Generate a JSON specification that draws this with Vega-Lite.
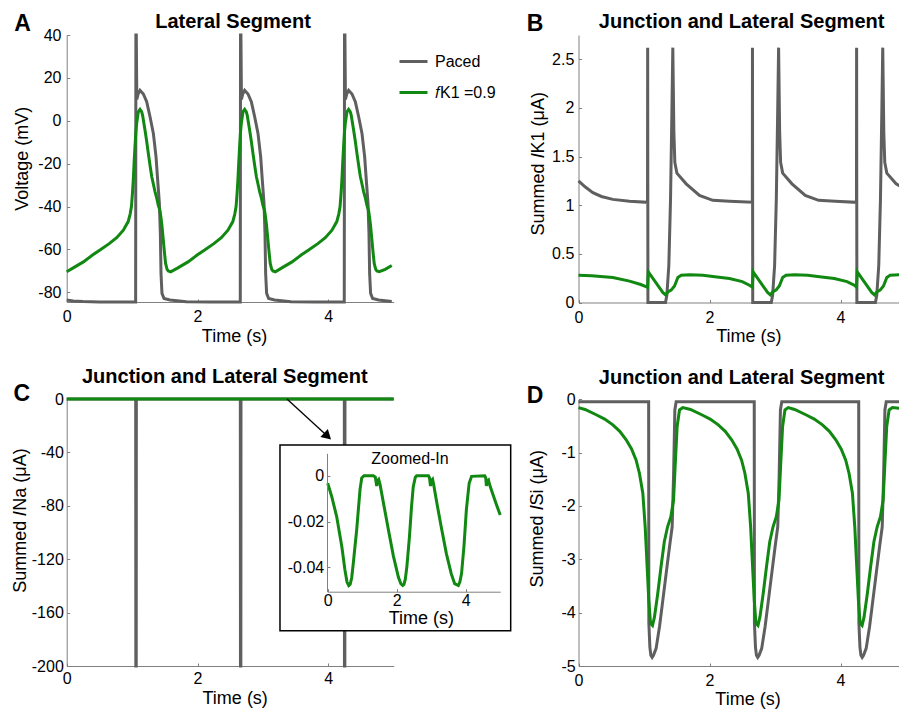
{
"$schema": "https://vega.github.io/schema/vega-lite/v6.json",
"width": 899, "height": 711,
"autosize": {"type": "none"},
"padding": 0,
"background": "white",
"config": {
  "view": {"stroke": null},
  "locale": {"number": {"decimal": ".", "thousands": ",", "grouping": [3], "currency": ["$", ""], "minus": "-"}},
  "axis": {"grid": false, "domainColor": "#808080", "domainWidth": 1, "tickColor": "#808080", "tickSize": -3, "tickWidth": 1,
           "labelFont": "Liberation Sans", "labelFontSize": 16, "labelColor": "#000000", "labelFlush": false, "labelOverlap": false,
           "titleFont": "Liberation Sans", "titleFontSize": 18, "titleFontWeight": "normal", "titleColor": "#000000"},
  "text": {"font": "Liberation Sans", "color": "#000000"}
},
"datasets": {
  "A": [
    {"s":"Paced","t":0,"v":-83.6},{"s":"Paced","t":0.1,"v":-84.0},{"s":"Paced","t":0.25,"v":-84.3},{"s":"Paced","t":0.5,"v":-84.5},{"s":"Paced","t":1.054,"v":-84.5},
    {"s":"Paced","t":1.058,"v":40},{"s":"Paced","t":1.064,"v":40},{"s":"Paced","t":1.072,"v":10},{"s":"Paced","t":1.092,"v":12.5},{"s":"Paced","t":1.121,"v":14.2},
    {"s":"Paced","t":1.172,"v":12.5},{"s":"Paced","t":1.223,"v":8.9},{"s":"Paced","t":1.274,"v":1.9},{"s":"Paced","t":1.325,"v":-5.9},{"s":"Paced","t":1.366,"v":-16.8},
    {"s":"Paced","t":1.391,"v":-27.7},{"s":"Paced","t":1.417,"v":-38.5},{"s":"Paced","t":1.432,"v":-52.5},{"s":"Paced","t":1.442,"v":-71.2},{"s":"Paced","t":1.457,"v":-80.5},
    {"s":"Paced","t":1.488,"v":-82.9},{"s":"Paced","t":1.579,"v":-83.6},{"s":"Paced","t":1.83,"v":-84.4},{"s":"Paced","t":2.2,"v":-84.5},{"s":"Paced","t":2.654,"v":-84.5},
    {"s":"Paced","t":2.658,"v":40},{"s":"Paced","t":2.664,"v":40},{"s":"Paced","t":2.672,"v":10},{"s":"Paced","t":2.692,"v":12.5},{"s":"Paced","t":2.721,"v":14.2},
    {"s":"Paced","t":2.772,"v":12.5},{"s":"Paced","t":2.823,"v":8.9},{"s":"Paced","t":2.874,"v":1.9},{"s":"Paced","t":2.925,"v":-5.9},{"s":"Paced","t":2.966,"v":-16.8},
    {"s":"Paced","t":2.991,"v":-27.7},{"s":"Paced","t":3.017,"v":-38.5},{"s":"Paced","t":3.032,"v":-52.5},{"s":"Paced","t":3.042,"v":-71.2},{"s":"Paced","t":3.057,"v":-80.5},
    {"s":"Paced","t":3.088,"v":-82.9},{"s":"Paced","t":3.179,"v":-83.6},{"s":"Paced","t":3.43,"v":-84.4},{"s":"Paced","t":3.8,"v":-84.5},{"s":"Paced","t":4.244,"v":-84.5},
    {"s":"Paced","t":4.248,"v":40},{"s":"Paced","t":4.254,"v":40},{"s":"Paced","t":4.262,"v":10},{"s":"Paced","t":4.282,"v":12.5},{"s":"Paced","t":4.311,"v":14.2},
    {"s":"Paced","t":4.362,"v":12.5},{"s":"Paced","t":4.413,"v":8.9},{"s":"Paced","t":4.464,"v":1.9},{"s":"Paced","t":4.515,"v":-5.9},{"s":"Paced","t":4.556,"v":-16.8},
    {"s":"Paced","t":4.581,"v":-27.7},{"s":"Paced","t":4.607,"v":-38.5},{"s":"Paced","t":4.622,"v":-52.5},{"s":"Paced","t":4.632,"v":-71.2},{"s":"Paced","t":4.647,"v":-80.5},
    {"s":"Paced","t":4.678,"v":-82.9},{"s":"Paced","t":4.769,"v":-83.6},{"s":"Paced","t":4.97,"v":-84.3},
    {"s":"fK1","t":0,"v":-70.4},{"s":"fK1","t":0.1,"v":-68.6},{"s":"fK1","t":0.255,"v":-65.8},{"s":"fK1","t":0.4,"v":-62.5},{"s":"fK1","t":0.509,"v":-60.3},
    {"s":"fK1","t":0.65,"v":-57.3},{"s":"fK1","t":0.764,"v":-54.5},{"s":"fK1","t":0.866,"v":-51},{"s":"fK1","t":0.94,"v":-47},{"s":"fK1","t":0.97,"v":-43.5},
    {"s":"fK1","t":0.99,"v":-40},{"s":"fK1","t":1.005,"v":-34},{"s":"fK1","t":1.018,"v":-27.7},{"s":"fK1","t":1.03,"v":-20},{"s":"fK1","t":1.044,"v":-12},
    {"s":"fK1","t":1.057,"v":-5.5},{"s":"fK1","t":1.07,"v":-1.2},{"s":"fK1","t":1.095,"v":4.2},{"s":"fK1","t":1.121,"v":5.3},{"s":"fK1","t":1.145,"v":4.3},
    {"s":"fK1","t":1.16,"v":2.7},{"s":"fK1","t":1.197,"v":-4.3},{"s":"fK1","t":1.223,"v":-9.5},{"s":"fK1","t":1.248,"v":-15.2},{"s":"fK1","t":1.275,"v":-21},
    {"s":"fK1","t":1.3,"v":-26},{"s":"fK1","t":1.325,"v":-29.5},{"s":"fK1","t":1.35,"v":-33},{"s":"fK1","t":1.376,"v":-36},{"s":"fK1","t":1.4,"v":-39.3},
    {"s":"fK1","t":1.427,"v":-42},{"s":"fK1","t":1.44,"v":-44.8},{"s":"fK1","t":1.455,"v":-48.5},{"s":"fK1","t":1.477,"v":-55.6},{"s":"fK1","t":1.495,"v":-61.5},
    {"s":"fK1","t":1.512,"v":-66.5},{"s":"fK1","t":1.535,"v":-69.3},{"s":"fK1","t":1.553,"v":-70},{"s":"fK1","t":1.59,"v":-70.4},
    {"s":"fK1","t":1.7,"v":-68.6},{"s":"fK1","t":1.855,"v":-65.8},{"s":"fK1","t":2.0,"v":-62.5},{"s":"fK1","t":2.109,"v":-60.3},{"s":"fK1","t":2.25,"v":-57.3},
    {"s":"fK1","t":2.364,"v":-54.5},{"s":"fK1","t":2.466,"v":-51},{"s":"fK1","t":2.54,"v":-47},{"s":"fK1","t":2.57,"v":-43.5},{"s":"fK1","t":2.59,"v":-40},
    {"s":"fK1","t":2.605,"v":-34},{"s":"fK1","t":2.618,"v":-27.7},{"s":"fK1","t":2.63,"v":-20},{"s":"fK1","t":2.644,"v":-12},{"s":"fK1","t":2.657,"v":-5.5},
    {"s":"fK1","t":2.67,"v":-1.2},{"s":"fK1","t":2.695,"v":4.2},{"s":"fK1","t":2.721,"v":5.3},{"s":"fK1","t":2.745,"v":4.3},{"s":"fK1","t":2.76,"v":2.7},
    {"s":"fK1","t":2.797,"v":-4.3},{"s":"fK1","t":2.823,"v":-9.5},{"s":"fK1","t":2.848,"v":-15.2},{"s":"fK1","t":2.875,"v":-21},{"s":"fK1","t":2.9,"v":-26},
    {"s":"fK1","t":2.925,"v":-29.5},{"s":"fK1","t":2.95,"v":-33},{"s":"fK1","t":2.976,"v":-36},{"s":"fK1","t":3.0,"v":-39.3},{"s":"fK1","t":3.027,"v":-42},
    {"s":"fK1","t":3.04,"v":-44.8},{"s":"fK1","t":3.055,"v":-48.5},{"s":"fK1","t":3.077,"v":-55.6},{"s":"fK1","t":3.095,"v":-61.5},{"s":"fK1","t":3.112,"v":-66.5},
    {"s":"fK1","t":3.135,"v":-69.3},{"s":"fK1","t":3.153,"v":-70},{"s":"fK1","t":3.19,"v":-70.4},
    {"s":"fK1","t":3.29,"v":-68.6},{"s":"fK1","t":3.445,"v":-65.8},{"s":"fK1","t":3.59,"v":-62.5},{"s":"fK1","t":3.699,"v":-60.3},{"s":"fK1","t":3.84,"v":-57.3},
    {"s":"fK1","t":3.954,"v":-54.5},{"s":"fK1","t":4.056,"v":-51},{"s":"fK1","t":4.13,"v":-47},{"s":"fK1","t":4.16,"v":-43.5},{"s":"fK1","t":4.18,"v":-40},
    {"s":"fK1","t":4.195,"v":-34},{"s":"fK1","t":4.208,"v":-27.7},{"s":"fK1","t":4.22,"v":-20},{"s":"fK1","t":4.234,"v":-12},{"s":"fK1","t":4.247,"v":-5.5},
    {"s":"fK1","t":4.26,"v":-1.2},{"s":"fK1","t":4.285,"v":4.2},{"s":"fK1","t":4.311,"v":5.3},{"s":"fK1","t":4.335,"v":4.3},{"s":"fK1","t":4.35,"v":2.7},
    {"s":"fK1","t":4.387,"v":-4.3},{"s":"fK1","t":4.413,"v":-9.5},{"s":"fK1","t":4.438,"v":-15.2},{"s":"fK1","t":4.465,"v":-21},{"s":"fK1","t":4.49,"v":-26},
    {"s":"fK1","t":4.515,"v":-29.5},{"s":"fK1","t":4.54,"v":-33},{"s":"fK1","t":4.566,"v":-36},{"s":"fK1","t":4.59,"v":-39.3},{"s":"fK1","t":4.617,"v":-42},
    {"s":"fK1","t":4.63,"v":-44.8},{"s":"fK1","t":4.645,"v":-48.5},{"s":"fK1","t":4.667,"v":-55.6},{"s":"fK1","t":4.685,"v":-61.5},{"s":"fK1","t":4.702,"v":-66.5},
    {"s":"fK1","t":4.725,"v":-69.3},{"s":"fK1","t":4.743,"v":-70},{"s":"fK1","t":4.78,"v":-70.4},{"s":"fK1","t":4.87,"v":-69.3},{"s":"fK1","t":4.97,"v":-67.5}
  ],
  "B": [
    {"s":"Paced","t":0,"v":1.25},{"s":"Paced","t":0.1,"v":1.19},{"s":"Paced","t":0.219,"v":1.13},{"s":"Paced","t":0.35,"v":1.09},{"s":"Paced","t":0.524,"v":1.06},
    {"s":"Paced","t":0.779,"v":1.04},{"s":"Paced","t":1.054,"v":1.03},{"s":"Paced","t":1.056,"v":2.62},{"s":"Paced","t":1.06,"v":0},{"s":"Paced","t":1.328,"v":0},
    {"s":"Paced","t":1.349,"v":0.075},{"s":"Paced","t":1.379,"v":0.38},{"s":"Paced","t":1.405,"v":1.06},{"s":"Paced","t":1.425,"v":1.92},{"s":"Paced","t":1.44,"v":2.62},
    {"s":"Paced","t":1.456,"v":1.75},{"s":"Paced","t":1.471,"v":1.44},{"s":"Paced","t":1.502,"v":1.33},{"s":"Paced","t":1.644,"v":1.22},{"s":"Paced","t":1.847,"v":1.1},
    {"s":"Paced","t":2.05,"v":1.05},{"s":"Paced","t":2.305,"v":1.04},{"s":"Paced","t":2.654,"v":1.03},
    {"s":"Paced","t":2.656,"v":2.62},{"s":"Paced","t":2.66,"v":0},{"s":"Paced","t":2.943,"v":0},{"s":"Paced","t":2.964,"v":0.075},{"s":"Paced","t":2.994,"v":0.38},
    {"s":"Paced","t":3.02,"v":1.06},{"s":"Paced","t":3.04,"v":1.92},{"s":"Paced","t":3.055,"v":2.62},{"s":"Paced","t":3.071,"v":1.75},{"s":"Paced","t":3.086,"v":1.44},
    {"s":"Paced","t":3.117,"v":1.33},{"s":"Paced","t":3.259,"v":1.22},{"s":"Paced","t":3.462,"v":1.1},{"s":"Paced","t":3.665,"v":1.05},{"s":"Paced","t":3.92,"v":1.04},
    {"s":"Paced","t":4.244,"v":1.03},
    {"s":"Paced","t":4.246,"v":2.62},{"s":"Paced","t":4.25,"v":0},{"s":"Paced","t":4.533,"v":0},{"s":"Paced","t":4.554,"v":0.075},{"s":"Paced","t":4.584,"v":0.38},
    {"s":"Paced","t":4.61,"v":1.06},{"s":"Paced","t":4.63,"v":1.92},{"s":"Paced","t":4.645,"v":2.62},{"s":"Paced","t":4.661,"v":1.75},{"s":"Paced","t":4.676,"v":1.44},
    {"s":"Paced","t":4.707,"v":1.33},{"s":"Paced","t":4.849,"v":1.22},{"s":"Paced","t":5.0,"v":1.16},
    {"s":"fK1","t":0,"v":0.28},{"s":"fK1","t":0.2,"v":0.275},{"s":"fK1","t":0.524,"v":0.257},{"s":"fK1","t":0.779,"v":0.22},{"s":"fK1","t":0.95,"v":0.185},
    {"s":"fK1","t":1.03,"v":0.164},{"s":"fK1","t":1.054,"v":0.155},{"s":"fK1","t":1.066,"v":0.315},{"s":"fK1","t":1.287,"v":0.103},{"s":"fK1","t":1.328,"v":0.079},
    {"s":"fK1","t":1.369,"v":0.11},{"s":"fK1","t":1.415,"v":0.127},{"s":"fK1","t":1.466,"v":0.17},{"s":"fK1","t":1.517,"v":0.257},{"s":"fK1","t":1.568,"v":0.28},
    {"s":"fK1","t":1.7,"v":0.285},{"s":"fK1","t":1.9,"v":0.28},{"s":"fK1","t":2.05,"v":0.267},{"s":"fK1","t":2.305,"v":0.247},{"s":"fK1","t":2.5,"v":0.215},
    {"s":"fK1","t":2.61,"v":0.178},{"s":"fK1","t":2.654,"v":0.158},
    {"s":"fK1","t":2.666,"v":0.315},{"s":"fK1","t":2.887,"v":0.103},{"s":"fK1","t":2.928,"v":0.079},{"s":"fK1","t":2.969,"v":0.11},{"s":"fK1","t":3.015,"v":0.127},
    {"s":"fK1","t":3.066,"v":0.17},{"s":"fK1","t":3.117,"v":0.257},{"s":"fK1","t":3.168,"v":0.28},{"s":"fK1","t":3.3,"v":0.285},{"s":"fK1","t":3.5,"v":0.28},
    {"s":"fK1","t":3.65,"v":0.267},{"s":"fK1","t":3.905,"v":0.247},{"s":"fK1","t":4.1,"v":0.215},{"s":"fK1","t":4.21,"v":0.178},{"s":"fK1","t":4.244,"v":0.158},
    {"s":"fK1","t":4.256,"v":0.315},{"s":"fK1","t":4.477,"v":0.103},{"s":"fK1","t":4.518,"v":0.079},{"s":"fK1","t":4.559,"v":0.11},{"s":"fK1","t":4.605,"v":0.127},
    {"s":"fK1","t":4.656,"v":0.17},{"s":"fK1","t":4.707,"v":0.257},{"s":"fK1","t":4.758,"v":0.28},{"s":"fK1","t":4.9,"v":0.285},{"s":"fK1","t":5.0,"v":0.284}
  ],
  "C": [
    {"s":"Paced","t":0,"v":0},{"s":"Paced","t":1.055,"v":0},{"s":"Paced","t":1.057,"v":-200},{"s":"Paced","t":1.063,"v":-200},{"s":"Paced","t":1.065,"v":0},
    {"s":"Paced","t":2.655,"v":0},{"s":"Paced","t":2.657,"v":-200},{"s":"Paced","t":2.663,"v":-200},{"s":"Paced","t":2.665,"v":0},
    {"s":"Paced","t":4.245,"v":0},{"s":"Paced","t":4.247,"v":-200},{"s":"Paced","t":4.253,"v":-200},{"s":"Paced","t":4.255,"v":0},{"s":"Paced","t":5,"v":0},
    {"s":"fK1","t":0,"v":0},{"s":"fK1","t":5,"v":0}
  ],
  "D": [
    {"s":"Paced","t":0,"v":-0.045},{"s":"Paced","t":1.071,"v":-0.045},{"s":"Paced","t":1.074,"v":-4.2},{"s":"Paced","t":1.09,"v":-4.65},{"s":"Paced","t":1.105,"v":-4.8},
    {"s":"Paced","t":1.124,"v":-4.84},{"s":"Paced","t":1.145,"v":-4.8},{"s":"Paced","t":1.185,"v":-4.67},{"s":"Paced","t":1.237,"v":-4.26},{"s":"Paced","t":1.288,"v":-3.76},
    {"s":"Paced","t":1.339,"v":-3.26},{"s":"Paced","t":1.39,"v":-2.76},{"s":"Paced","t":1.43,"v":-2.39},{"s":"Paced","t":1.451,"v":-1.45},{"s":"Paced","t":1.471,"v":-0.2},
    {"s":"Paced","t":1.491,"v":-0.045},
    {"s":"Paced","t":2.683,"v":-0.045},{"s":"Paced","t":2.686,"v":-4.2},{"s":"Paced","t":2.702,"v":-4.65},{"s":"Paced","t":2.717,"v":-4.8},{"s":"Paced","t":2.736,"v":-4.84},
    {"s":"Paced","t":2.757,"v":-4.8},{"s":"Paced","t":2.797,"v":-4.67},{"s":"Paced","t":2.849,"v":-4.26},{"s":"Paced","t":2.9,"v":-3.76},{"s":"Paced","t":2.951,"v":-3.26},
    {"s":"Paced","t":3.002,"v":-2.76},{"s":"Paced","t":3.042,"v":-2.39},{"s":"Paced","t":3.063,"v":-1.45},{"s":"Paced","t":3.083,"v":-0.2},{"s":"Paced","t":3.103,"v":-0.045},
    {"s":"Paced","t":4.278,"v":-0.045},{"s":"Paced","t":4.281,"v":-4.2},{"s":"Paced","t":4.297,"v":-4.65},{"s":"Paced","t":4.312,"v":-4.8},{"s":"Paced","t":4.331,"v":-4.84},
    {"s":"Paced","t":4.352,"v":-4.8},{"s":"Paced","t":4.392,"v":-4.67},{"s":"Paced","t":4.444,"v":-4.26},{"s":"Paced","t":4.495,"v":-3.76},{"s":"Paced","t":4.546,"v":-3.26},
    {"s":"Paced","t":4.597,"v":-2.76},{"s":"Paced","t":4.637,"v":-2.39},{"s":"Paced","t":4.658,"v":-1.45},{"s":"Paced","t":4.678,"v":-0.2},{"s":"Paced","t":4.698,"v":-0.045},
    {"s":"Paced","t":5,"v":-0.045},
    {"s":"fK1","t":0,"v":-0.156},{"s":"fK1","t":0.1,"v":-0.19},{"s":"fK1","t":0.27,"v":-0.29},{"s":"fK1","t":0.4,"v":-0.37},{"s":"fK1","t":0.524,"v":-0.48},
    {"s":"fK1","t":0.63,"v":-0.6},{"s":"fK1","t":0.728,"v":-0.76},{"s":"fK1","t":0.81,"v":-0.93},{"s":"fK1","t":0.88,"v":-1.14},{"s":"fK1","t":0.931,"v":-1.39},
    {"s":"fK1","t":0.982,"v":-1.76},{"s":"fK1","t":1.018,"v":-2.39},{"s":"fK1","t":1.048,"v":-3.14},{"s":"fK1","t":1.073,"v":-3.76},{"s":"fK1","t":1.099,"v":-4.2},
    {"s":"fK1","t":1.13,"v":-4.24},{"s":"fK1","t":1.16,"v":-4.08},{"s":"fK1","t":1.21,"v":-3.64},{"s":"fK1","t":1.26,"v":-3.14},{"s":"fK1","t":1.31,"v":-2.67},
    {"s":"fK1","t":1.36,"v":-2.39},{"s":"fK1","t":1.41,"v":-2.2},{"s":"fK1","t":1.451,"v":-1.89},{"s":"fK1","t":1.48,"v":-1.14},{"s":"fK1","t":1.506,"v":-0.51},
    {"s":"fK1","t":1.542,"v":-0.2},{"s":"fK1","t":1.593,"v":-0.156},
    {"s":"fK1","t":1.71,"v":-0.19},{"s":"fK1","t":1.88,"v":-0.29},{"s":"fK1","t":2.01,"v":-0.37},{"s":"fK1","t":2.134,"v":-0.48},{"s":"fK1","t":2.24,"v":-0.6},
    {"s":"fK1","t":2.338,"v":-0.76},{"s":"fK1","t":2.42,"v":-0.93},{"s":"fK1","t":2.49,"v":-1.14},{"s":"fK1","t":2.541,"v":-1.39},{"s":"fK1","t":2.592,"v":-1.76},
    {"s":"fK1","t":2.628,"v":-2.39},{"s":"fK1","t":2.658,"v":-3.14},{"s":"fK1","t":2.683,"v":-3.76},{"s":"fK1","t":2.709,"v":-4.2},{"s":"fK1","t":2.74,"v":-4.24},
    {"s":"fK1","t":2.77,"v":-4.08},{"s":"fK1","t":2.82,"v":-3.64},{"s":"fK1","t":2.87,"v":-3.14},{"s":"fK1","t":2.92,"v":-2.67},{"s":"fK1","t":2.97,"v":-2.39},
    {"s":"fK1","t":3.02,"v":-2.2},{"s":"fK1","t":3.061,"v":-1.89},{"s":"fK1","t":3.09,"v":-1.14},{"s":"fK1","t":3.116,"v":-0.51},{"s":"fK1","t":3.152,"v":-0.2},
    {"s":"fK1","t":3.203,"v":-0.156},
    {"s":"fK1","t":3.3,"v":-0.19},{"s":"fK1","t":3.47,"v":-0.29},{"s":"fK1","t":3.6,"v":-0.37},{"s":"fK1","t":3.724,"v":-0.48},{"s":"fK1","t":3.83,"v":-0.6},
    {"s":"fK1","t":3.928,"v":-0.76},{"s":"fK1","t":4.01,"v":-0.93},{"s":"fK1","t":4.08,"v":-1.14},{"s":"fK1","t":4.131,"v":-1.39},{"s":"fK1","t":4.182,"v":-1.76},
    {"s":"fK1","t":4.218,"v":-2.39},{"s":"fK1","t":4.248,"v":-3.14},{"s":"fK1","t":4.273,"v":-3.76},{"s":"fK1","t":4.299,"v":-4.2},{"s":"fK1","t":4.33,"v":-4.24},
    {"s":"fK1","t":4.36,"v":-4.08},{"s":"fK1","t":4.41,"v":-3.64},{"s":"fK1","t":4.46,"v":-3.14},{"s":"fK1","t":4.51,"v":-2.67},{"s":"fK1","t":4.56,"v":-2.39},
    {"s":"fK1","t":4.61,"v":-2.2},{"s":"fK1","t":4.651,"v":-1.89},{"s":"fK1","t":4.68,"v":-1.14},{"s":"fK1","t":4.706,"v":-0.51},{"s":"fK1","t":4.742,"v":-0.2},
    {"s":"fK1","t":4.793,"v":-0.156},{"s":"fK1","t":4.9,"v":-0.17},{"s":"fK1","t":5,"v":-0.2}
  ],
  "inset": [
    {"t":0,"v":-0.0032},{"t":0.116,"v":-0.009},{"t":0.26,"v":-0.0178},{"t":0.41,"v":-0.031},{"t":0.5,"v":-0.0412},{"t":0.56,"v":-0.0465},{"t":0.61,"v":-0.048},
    {"t":0.65,"v":-0.0475},{"t":0.695,"v":-0.0447},{"t":0.744,"v":-0.038},{"t":0.792,"v":-0.0307},{"t":0.841,"v":-0.0235},{"t":0.889,"v":-0.0147},{"t":0.937,"v":-0.006},
    {"t":0.986,"v":-0.0009},{"t":1.053,"v":0.0001},{"t":1.324,"v":0.0001},{"t":1.38,"v":-0.0005},{"t":1.42,"v":-0.0044},{"t":1.44,"v":-0.0022},{"t":1.478,"v":-0.0015},
    {"t":1.517,"v":-0.0037},{"t":1.614,"v":-0.0117},{"t":1.758,"v":-0.0235},{"t":1.903,"v":-0.035},{"t":2.048,"v":-0.0443},{"t":2.12,"v":-0.0472},{"t":2.174,"v":-0.048},
    {"t":2.21,"v":-0.0475},{"t":2.25,"v":-0.0452},{"t":2.296,"v":-0.0396},{"t":2.37,"v":-0.0266},{"t":2.43,"v":-0.0134},{"t":2.48,"v":-0.0047},{"t":2.54,"v":-0.0006},
    {"t":2.58,"v":0.0001},{"t":2.92,"v":0.0001},{"t":2.95,"v":-0.0008},{"t":2.98,"v":-0.0044},{"t":3.0,"v":-0.0022},{"t":3.04,"v":-0.0015},{"t":3.07,"v":-0.0037},
    {"t":3.15,"v":-0.0107},{"t":3.29,"v":-0.0223},{"t":3.44,"v":-0.034},{"t":3.58,"v":-0.0428},{"t":3.68,"v":-0.0472},{"t":3.786,"v":-0.048},{"t":3.83,"v":-0.0465},
    {"t":3.88,"v":-0.0428},{"t":3.95,"v":-0.0307},{"t":4.02,"v":-0.0147},{"t":4.1,"v":-0.0032},{"t":4.17,"v":-0.0002},{"t":4.55,"v":0.0001},{"t":4.58,"v":-0.0008},
    {"t":4.6,"v":-0.0044},{"t":4.63,"v":-0.0022},{"t":4.66,"v":-0.0018},{"t":4.69,"v":-0.0037},{"t":4.79,"v":-0.0081},{"t":4.89,"v":-0.0125},{"t":5.0,"v":-0.0171}
  ]
},
"layer": [
  {
    "layer": [
      {
        "data": {"name": "A"},
        "mark": {"type": "line", "strokeWidth": 3},
        "encoding": {
          "x": {"field": "t", "type": "quantitative", "scale": {"domain": [0, 5], "range": [66.7, 393.7], "nice": false, "zero": false},
                "axis": {"orient": "bottom", "offset": -409, "values": [0, 2, 4], "format": "d", "labelPadding": 9.8, "title": "Time (s)", "titleX": 234, "titleY": 25}},
          "y": {"field": "v", "type": "quantitative", "scale": {"domain": [-84.5, 40], "range": [302, 35], "nice": false, "zero": false},
                "axis": {"orient": "left", "offset": -66.7, "values": [-80, -60, -40, -20, 0, 20, 40], "format": "d", "labelPadding": 8.7, "title": "Voltage (mV)", "titleX": -35, "titleY": 158.3}},
          "color": {"field": "s", "type": "nominal", "scale": {"domain": ["Paced", "fK1"], "range": ["#5f5f5f", "#118811"]},
                    "legend": {"orient": "none", "legendX": 398, "legendY": 46, "title": null, "symbolType": "stroke", "symbolSize": 784, "symbolStrokeWidth": 3,
                               "labelFont": "Liberation Sans", "labelFontSize": 16, "labelColor": "#000000", "labelOffset": 6, "rowPadding": 7, "padding": 0,
                               "labelExpr": "datum.value == 'fK1' ? '𝑓K1 =0.9' : 'Paced'"}}
        }
      },
      {
        "data": {"values": [{}]},
        "mark": {"type": "text", "fontSize": 23, "fontWeight": "bold", "align": "center", "baseline": "alphabetic"},
        "encoding": {"x": {"datum": -0.676, "type": "quantitative"}, "y": {"datum": 42.0, "type": "quantitative"}, "text": {"value": "A"}}
      },
      {
        "data": {"values": [{}]},
        "mark": {"type": "text", "fontSize": 20, "fontWeight": "bold", "align": "center", "baseline": "alphabetic"},
        "encoding": {"x": {"datum": 2.543, "type": "quantitative"}, "y": {"datum": 43.1, "type": "quantitative"}, "text": {"value": "Lateral Segment"}}
      }
    ]
  },
  {
    "layer": [
      {
        "data": {"name": "B"},
        "mark": {"type": "line", "strokeWidth": 3},
        "encoding": {
          "x": {"field": "t", "type": "quantitative", "scale": {"domain": [0, 5], "range": [578.5, 906], "nice": false, "zero": false},
                "axis": {"orient": "bottom", "offset": -408.5, "values": [0, 2, 4], "format": "d", "labelPadding": 9.8, "title": "Time (s)", "titleX": 748.3, "titleY": 25}},
          "y": {"field": "v", "type": "quantitative", "scale": {"domain": [0, 2.75], "range": [302.5, 35], "nice": false, "zero": false},
                "axis": {"orient": "left", "offset": -578.5, "values": [0, 0.5, 1, 1.5, 2, 2.5], "format": "~g", "labelPadding": 7.7, "title": "Summed 𝐼K1 (μA)", "titleX": -31.2, "titleY": 163.3}},
          "color": {"field": "s", "type": "nominal", "scale": {"domain": ["Paced", "fK1"], "range": ["#5f5f5f", "#118811"]}, "legend": null}
        }
      },
      {
        "data": {"values": [{}]},
        "mark": {"type": "text", "fontSize": 23, "fontWeight": "bold", "align": "center", "baseline": "alphabetic"},
        "encoding": {"x": {"datum": -0.664, "type": "quantitative"}, "y": {"datum": 2.794, "type": "quantitative"}, "text": {"value": "B"}}
      },
      {
        "data": {"values": [{}]},
        "mark": {"type": "text", "fontSize": 20, "fontWeight": "bold", "align": "center", "baseline": "alphabetic"},
        "encoding": {"x": {"datum": 2.49, "type": "quantitative"}, "y": {"datum": 2.819, "type": "quantitative"}, "text": {"value": "Junction and Lateral Segment"}}
      }
    ]
  },
  {
    "layer": [
      {
        "data": {"name": "C"},
        "mark": {"type": "line", "strokeWidth": 3},
        "encoding": {
          "x": {"field": "t", "type": "quantitative", "scale": {"domain": [0, 5], "range": [66.7, 393.7], "nice": false, "zero": false},
                "axis": {"orient": "bottom", "offset": -45, "values": [0, 2, 4], "format": "d", "labelPadding": 7.5, "title": "Time (s)", "titleX": 234.7, "titleY": 23}},
          "y": {"field": "v", "type": "quantitative", "scale": {"domain": [-200, 0], "range": [666, 399], "nice": false, "zero": false},
                "axis": {"orient": "left", "offset": -66.7, "values": [0, -40, -80, -120, -160, -200], "format": "d", "labelPadding": 6.4, "title": "Summed 𝐼Na (μA)", "titleX": -36.9, "titleY": 520}},
          "color": {"field": "s", "type": "nominal", "scale": {"domain": ["Paced", "fK1"], "range": ["#5f5f5f", "#118811"]}, "legend": null}
        }
      },
      {
        "data": {"values": [{}]},
        "mark": {"type": "rule", "color": "#000000", "strokeWidth": 1.3},
        "encoding": {"x": {"datum": 3.368, "type": "quantitative"}, "y": {"datum": 0, "type": "quantitative"},
                     "x2": {"datum": 3.989}, "y2": {"datum": -27.9}}
      },
      {
        "data": {"values": [{}]},
        "mark": {"type": "point", "shape": "triangle-up", "filled": true, "color": "#000000", "opacity": 1, "size": 120, "angle": 133},
        "encoding": {"x": {"datum": 3.989, "type": "quantitative"}, "y": {"datum": -27.9, "type": "quantitative"}}
      },
      {
        "data": {"values": [{}]},
        "mark": {"type": "text", "fontSize": 23, "fontWeight": "bold", "align": "center", "baseline": "alphabetic"},
        "encoding": {"x": {"datum": -0.687, "type": "quantitative"}, "y": {"datum": -1.5, "type": "quantitative"}, "text": {"value": "C"}}
      },
      {
        "data": {"values": [{}]},
        "mark": {"type": "text", "fontSize": 20, "fontWeight": "bold", "align": "center", "baseline": "alphabetic"},
        "encoding": {"x": {"datum": 2.417, "type": "quantitative"}, "y": {"datum": 12.2, "type": "quantitative"}, "text": {"value": "Junction and Lateral Segment"}}
      }
    ]
  },
  {
    "layer": [
      {
        "data": {"name": "inset"},
        "mark": {"type": "line", "strokeWidth": 3, "color": "#118811", "opacity": 0},
        "encoding": {
          "x": {"field": "t", "type": "quantitative", "scale": {"domain": [0, 5], "range": [327.7, 500.2], "nice": false, "zero": false},
                "axis": {"orient": "bottom", "offset": -119.3, "values": [0, 2, 4], "format": "d", "labelPadding": 3.5, "title": "Time (s)", "titleX": 420.8, "titleY": 17.3, "zindex": 1}},
          "y": {"field": "v", "type": "quantitative", "scale": {"domain": [-0.0507, 0.0099], "range": [591.7, 453.3], "nice": false, "zero": false},
                "axis": {"orient": "left", "offset": -327, "values": [0, -0.02, -0.04], "format": "~g", "labelPadding": 6.3, "title": null, "zindex": 1}}
        }
      },
      {
        "data": {"values": [{}]},
        "mark": {"type": "rect", "fill": "#ffffff", "stroke": "#000000", "strokeWidth": 1.5},
        "encoding": {"x": {"datum": -1.383, "type": "quantitative"}, "x2": {"datum": 5.304},
                     "y": {"datum": 0.01358, "type": "quantitative"}, "y2": {"datum": -0.06776}}
      },
      {
        "data": {"name": "inset"},
        "mark": {"type": "line", "strokeWidth": 3, "color": "#118811"},
        "encoding": {"x": {"field": "t", "type": "quantitative"}, "y": {"field": "v", "type": "quantitative"}}
      },
      {
        "data": {"values": [{}]},
        "mark": {"type": "text", "fontSize": 16, "align": "center", "baseline": "alphabetic"},
        "encoding": {"x": {"datum": 2.386, "type": "quantitative"}, "y": {"datum": 0.00512, "type": "quantitative"}, "text": {"value": "Zoomed-In"}}
      }
    ]
  },
  {
    "layer": [
      {
        "data": {"name": "D"},
        "mark": {"type": "line", "strokeWidth": 3},
        "encoding": {
          "x": {"field": "t", "type": "quantitative", "scale": {"domain": [0, 5], "range": [578.5, 906], "nice": false, "zero": false},
                "axis": {"orient": "bottom", "offset": -45, "values": [0, 2, 4], "format": "d", "labelPadding": 9.8, "title": "Time (s)", "titleX": 747.5, "titleY": 24.7}},
          "y": {"field": "v", "type": "quantitative", "scale": {"domain": [-5, 0], "range": [666, 399.3], "nice": false, "zero": false},
                "axis": {"orient": "left", "offset": -578.5, "values": [0, -1, -2, -3, -4, -5], "format": "d", "labelPadding": 6.3, "title": "Summed 𝐼Si (μA)", "titleX": -32.5, "titleY": 518.3}},
          "color": {"field": "s", "type": "nominal", "scale": {"domain": ["Paced", "fK1"], "range": ["#5f5f5f", "#118811"]}, "legend": null}
        }
      },
      {
        "data": {"values": [{}]},
        "mark": {"type": "text", "fontSize": 23, "fontWeight": "bold", "align": "center", "baseline": "alphabetic"},
        "encoding": {"x": {"datum": -0.664, "type": "quantitative"}, "y": {"datum": -0.064, "type": "quantitative"}, "text": {"value": "D"}}
      },
      {
        "data": {"values": [{}]},
        "mark": {"type": "text", "fontSize": 20, "fontWeight": "bold", "align": "center", "baseline": "alphabetic"},
        "encoding": {"x": {"datum": 2.49, "type": "quantitative"}, "y": {"datum": 0.287, "type": "quantitative"}, "text": {"value": "Junction and Lateral Segment"}}
      }
    ]
  }
],
"resolve": {"scale": {"x": "independent", "y": "independent"}, "axis": {"x": "independent", "y": "independent"}}
}
